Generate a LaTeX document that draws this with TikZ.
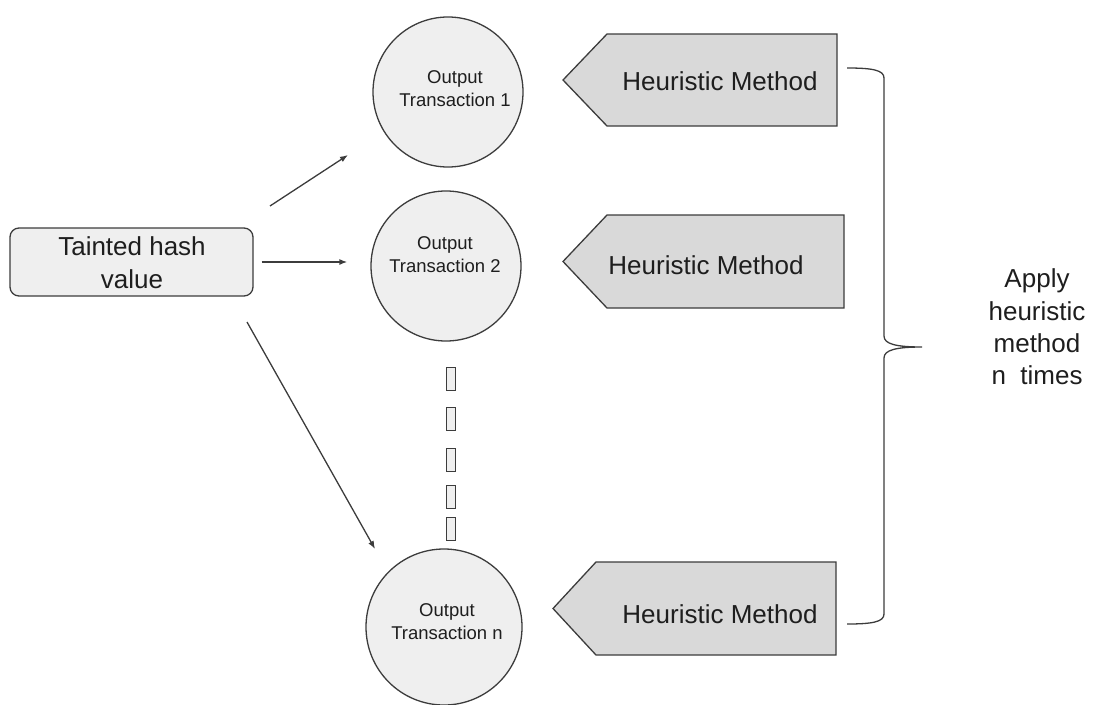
\documentclass[tikz,border=0pt]{standalone}
\usepackage{fontspec}
\setmainfont{Liberation Sans}
\usetikzlibrary{arrows.meta}
\definecolor{edgegray}{HTML}{3C3C3C}
\definecolor{lightfill}{HTML}{EFEFEF}
\definecolor{tagfill}{HTML}{D9D9D9}
\definecolor{ink}{HTML}{1E1E1E}
\begin{document}
\begin{tikzpicture}[x=1pt,y=-1pt,
  outline/.style={draw=edgegray, line width=1.3pt},
  txcircle/.style={outline, circle, fill=lightfill, inner sep=0pt, minimum size=#1},
  smalltext/.style={text=ink, align=center, inner sep=0pt,
    font=\fontsize{18.5}{23}\selectfont},
  bigtext/.style={text=ink, align=center, inner sep=0pt,
    font=\fontsize{26}{33}\selectfont},
  tag/.style={outline, fill=tagfill, line join=miter},
  dotbox/.style={outline, fill=lightfill, inner sep=0pt,
    minimum width=9pt, minimum height=23pt},
  arrowline/.style={draw=edgegray, line width=1.3pt,
    -{Latex[length=8pt,width=6pt]}},
  brace/.style={draw=edgegray, line width=1.3pt}
]
\useasboundingbox (0,0) rectangle (1094,704);

% source value
\node[outline, fill=lightfill, rounded corners=9pt,
      minimum width=243pt, minimum height=68pt] (taint) at (131.5,262) {};
\node[bigtext] (tainttext) at (132,263) {Tainted hash\\value};

% output transactions
\node[txcircle=150pt] (o1) at (448,92) {};
\node[txcircle=150pt] (o2) at (446,266) {};
\node[txcircle=156pt] (on) at (444,627) {};
\node[smalltext] (o1t) at (455,89) {Output\\Transaction 1};
\node[smalltext] (o2t) at (445,255) {Output\\Transaction 2};
\node[smalltext] (ont) at (447,622) {Output\\Transaction n};

% vertical ellipsis between transaction 2 and n
\node[dotbox] (d1) at (451,379) {};
\node[dotbox] (d2) at (451,419) {};
\node[dotbox] (d3) at (451,460) {};
\node[dotbox] (d4) at (451,497) {};
\node[dotbox] (d5) at (451,529) {};

% arrows from the tainted value
\coordinate (a1s) at (270,206);
\coordinate (a1e) at (348,155);
\coordinate (a3s) at (247,322);
\coordinate (a3e) at (375,549);
\draw[arrowline] (a1s) -- (a1e);
\draw[arrowline, shorten <=8pt, shorten >=23pt] (taint.east) -- (taint.east -| o2.west);
\draw[arrowline] (a3s) -- (a3e);

% heuristic method tags
\path[tag] (607,34) -- (837,34) -- (837,126) -- (607,126) -- (563,80) -- cycle;
\path[tag] (607,215) -- (844,215) -- (844,308) -- (607,308) -- (563,261.5) -- cycle;
\path[tag] (596,562) -- (836,562) -- (836,655) -- (596,655) -- (553,608.5) -- cycle;
\node[bigtext] (h1) at (720,81) {Heuristic Method};
\node[bigtext] (h2) at (706,265) {Heuristic Method};
\node[bigtext] (h3) at (720,614) {Heuristic Method};

% right brace and its note
\draw[brace] (847,68) .. controls (872,68) and (884,70) .. (884,78)
  -- (884,336) .. controls (884,344) and (896,347) .. (922,347)
  .. controls (896,347) and (884,350) .. (884,358)
  -- (884,614) .. controls (884,622) and (872,624) .. (847,624);
\node[bigtext, font=\fontsize{26}{32.3}\selectfont] (note) at (1037,327)
  {Apply\\heuristic\\method\\n\ \ times};
\end{tikzpicture}
\end{document}
